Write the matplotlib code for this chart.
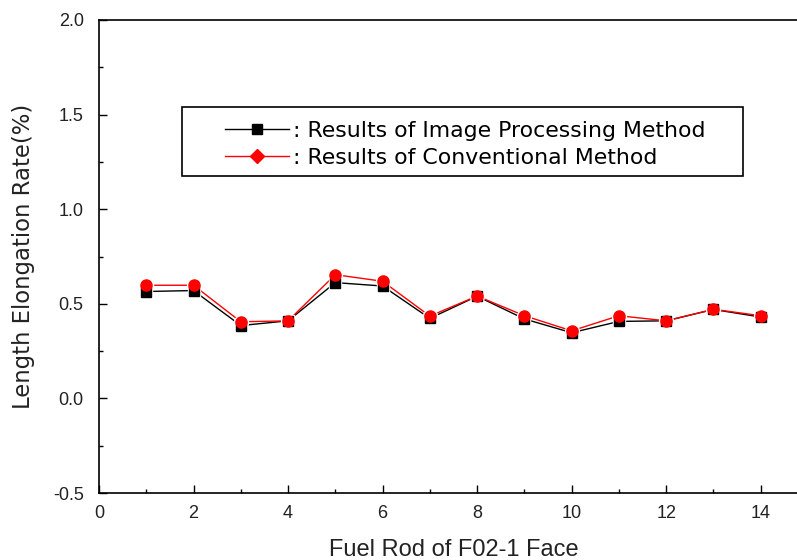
import matplotlib
matplotlib.use('Agg')
import matplotlib.pyplot as plt
from matplotlib.patches import Rectangle
from matplotlib.ticker import MultipleLocator

plt.rcParams['font.family'] = ['Liberation Sans', 'DejaVu Sans']
plt.rcParams['axes.unicode_minus'] = False

# numero da barra de combustivel
rods = [1, 2, 3, 4, 5, 6, 7, 8, 9, 10, 11, 12, 13, 14]
# taxa de alongamento (%)
image_method = [0.565, 0.57, 0.385, 0.41, 0.612, 0.594, 0.423, 0.54, 0.42, 0.347, 0.407, 0.41, 0.47, 0.43]
conv_method = [0.598, 0.598, 0.405, 0.41, 0.654, 0.619, 0.435, 0.541, 0.437, 0.357, 0.437, 0.41, 0.471, 0.437]

fig = plt.figure(figsize=(7.97, 5.6), dpi=100)
# eixo vai alem da borda direita (grafico original cortado)
ax = fig.add_axes([99/797, 67/560, 709/797, 473/560])

ax.plot(rods, image_method, color='black', lw=1, zorder=2)
ax.plot(rods, conv_method, color='red', lw=1, zorder=2)
# halo branco para imitar as falhas da linha perto dos marcadores
ax.plot(rods, image_method, ls='none', marker='s', ms=9, color='white', zorder=3)
ax.plot(rods, conv_method, ls='none', marker='o', ms=10, color='white', zorder=3)
ax.plot(rods, image_method, ls='none', marker='s', ms=7, color='black', zorder=4)
ax.plot(rods, conv_method, ls='none', marker='o', ms=8, color='red', zorder=5)

ax.set_xlim(0, 15)
ax.set_ylim(-0.5, 2.0)
ax.xaxis.set_major_locator(MultipleLocator(2))
ax.xaxis.set_minor_locator(MultipleLocator(1))
ax.yaxis.set_major_locator(MultipleLocator(0.5))
ax.yaxis.set_minor_locator(MultipleLocator(0.25))
ax.tick_params(which='both', direction='in', top=False, right=False, labelsize=13, labelcolor='#222222')
ax.tick_params(axis='x', pad=9)
ax.tick_params(axis='y', pad=11)
ax.tick_params(which='major', length=6, width=1)
ax.tick_params(which='minor', length=3, width=1)
for s in ax.spines.values():
    s.set_linewidth(1.2)

ax.set_xlabel('Fuel Rod of F02-1 Face', fontsize=17, color='#222222', labelpad=12)
ax.set_ylabel('Length Elongation Rate(%)', fontsize=16.4, family='DejaVu Sans', color='#222222', labelpad=13)

# caixa da legenda
fig.patches.append(Rectangle((182/797, 1 - 176/560), 561/797, 69/560, transform=fig.transFigure,
                             fill=False, edgecolor='black', lw=1.2, zorder=10))
h1, = ax.plot([], [], color='black', lw=1, marker='s', ms=7)
h2, = ax.plot([], [], color='red', lw=1, marker='D', ms=7)
fig.legend([h1, h2], [': Results of Image Processing Method', ': Results of Conventional Method'],
           loc='upper left', bbox_to_anchor=(214/797, 1 - 110/560), frameon=False,
           prop={'family': 'DejaVu Sans', 'size': 15.8}, handlelength=2.9, handletextpad=0.2,
           labelspacing=0.3, borderpad=0)

fig.savefig('out.png', dpi=100)
